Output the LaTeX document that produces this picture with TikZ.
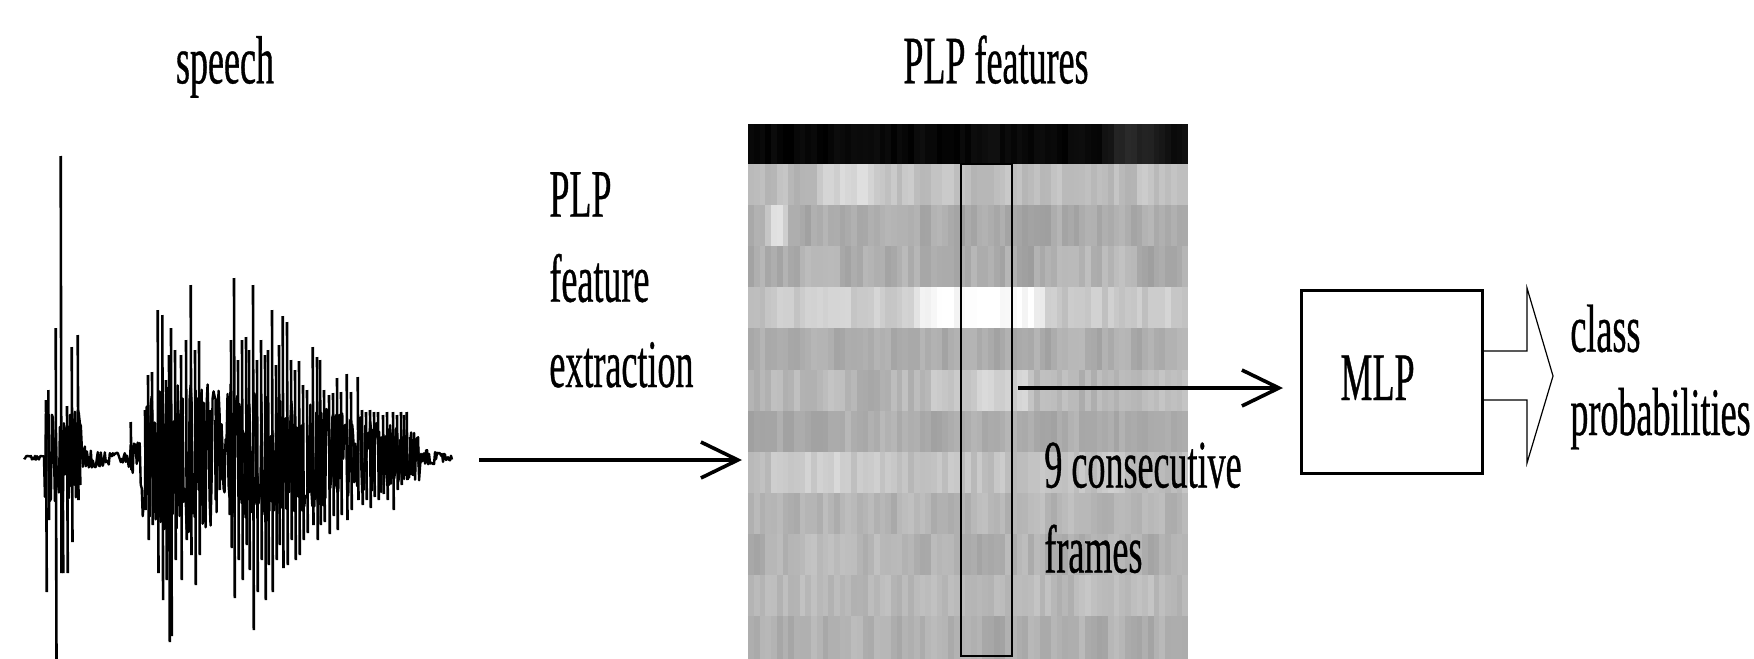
\documentclass[tikz,border=0pt]{standalone}
\usepackage{fontspec}
\setmainfont{Liberation Serif}[FakeStretch=0.53,FakeBold=0.5]
\usetikzlibrary{arrows.meta}
\begin{document}
\begin{tikzpicture}[x=0.5pt,y=-0.5pt,
  lbl/.style={inner sep=0pt, font=\fontsize{34}{42.5}\selectfont},
  conn/.style={line width=1.8pt, -{Straight Barb[length=18.5pt,width=18pt]}},
  spike/.style={line width=1.3pt},
  wave/.style={line width=1.2pt, line join=round},
  mlpbox/.style={draw, line width=1.5pt, inner sep=0pt, minimum width=90.15pt, minimum height=91.65pt},
  declare function={env(\t)=(\t<44)*2
     + and(\t>44,\t<81)*48
     + and(\t>81,\t<128)*(12-8*(\t-81)/47)
     + and(\t>128,\t<140)*16
     + and(\t>140,\t<222)*75
     + and(\t>222,\t<226)*35
     + and(\t>226,\t<420)*(75-50*(\t-226)/194)
     + (\t>420)*(9-6*(\t-420)/32);}]
\useasboundingbox (0,0) rectangle (1754,658);

% ---------- titles ----------
\node[lbl, anchor=base] (speech) at (225,83.3) {speech};
\node[lbl, anchor=base west] (feattitle) at (903,83.3) {PLP features};

% ---------- speech waveform ----------
\pgfmathsetseed{4242}
\draw[wave, samples=430, domain=24:452] plot (\x, {457.7 + env(\x)*(2*(rnd>0.5)-1)*sqrt(rnd)});
\foreach \sx/\st/\sb in {
  46/400/592, 48.3/390/520, 55.7/328/665, 60.7/156/573, 62.5/430/573,
  67/406/573, 71.7/347/542, 77.7/335/500, 79.5/420/485, 130.7/422/470,
  145/410/510, 148/375/540, 152/372/525, 157.7/310/573, 162.3/315/600,
  166/380/580, 169/355/642, 171/328/636, 175/350/560, 181/355/580,
  186/340/540, 190.7/285/555, 195/350/585, 199/341/555, 204/410/505,
  210/410/495, 215/420/500, 219/415/490,
  229/402/515, 231/340/548, 234/278/598, 238/360/560, 242/340/580,
  246/337/545, 249/350/570, 253/285/630, 257/360/592, 261/340/560,
  265/355/600, 268/350/565, 272/310/592, 276/365/560, 279/345/545,
  282.7/316/568, 287/322/565, 291/360/540, 295/370/560, 299/361/555,
  303/385/540, 307/390/533, 312.7/347/525, 317/357/540, 320/360/525,
  324/390/522, 329/395/534, 333/393/516, 337/378/530, 341/392/515,
  346.7/374/520, 351/392/510, 357.7/377/500, 362/410/505, 366/412/500,
  370/410/508, 374/412/497, 378/412/500, 383/415/494, 387/412/500,
  393/412/510, 397/415/490, 401/412/485, 404/415/476, 406.7/412/480,
  410/437/475, 414/442/472, 418/447/467}
  {\draw[spike] (\sx,\st) -- (\sx+0.8,\sb);}

% ---------- PLP feature matrix ----------
\pgfmathsetseed{1234}
\foreach \yt/\yb/\bs/\am/\bc/\bw/\bh in {
  124.2/164/0.03/0.04/67/6/0.12,
  164/205.1/0.75/0.07/17/6/0.09,
  205.1/246.2/0.67/0.06/4/3/0.24,
  246.2/287.3/0.68/0.07/60/10/0.03,
  287.3/328.4/0.79/0.07/40/12/0.21,
  328.4/369.5/0.67/0.06/40/5/0.0,
  369.5/410.6/0.72/0.07/40/10/0.10,
  410.6/451.7/0.67/0.06/20/5/0.03,
  451.7/492.8/0.76/0.07/10/8/0.05,
  492.8/533.9/0.71/0.06/40/5/0.0,
  533.9/575/0.70/0.07/20/10/0.03,
  575/616.1/0.73/0.06/40/5/0.0,
  616.1/660/0.69/0.07/50/5/0.0}
{
  \xdef\prev{\bs}
  \foreach \c in {0,...,76}{
    \pgfmathsetmacro\g{max(0,min(1,0.3*\prev+0.7*(\bs+\bh*min(1,max(0,(\bw-abs(\c-\bc))/3))+\am*rand)))}
    \xdef\prev{\g}
    \definecolor{cellc}{gray}{\g}
    \fill[cellc] ({748.3+\c*5.71},\yt) rectangle ({748.3+(\c+1)*5.71+0.4},\yb+0.3);
  }
}
% window of 9 consecutive frames
\draw[line width=1pt] (961,164) rectangle (1012,655.5);

% ---------- labels ----------
\node[lbl, anchor=base west] (ex1) at (549,216.7) {PLP};
\node[lbl, anchor=base west] (ex2) at (549,301.7) {feature};
\node[lbl, anchor=base west] (ex3) at (549,387) {extraction};
\node[lbl, anchor=base west] (cf1) at (1044,487.5) {9 consecutive};
\node[lbl, anchor=base west] (cf2) at (1044,572.5) {frames};

% ---------- connectors ----------
\coordinate (a1s) at (479,460);
\coordinate (a1e) at (742,460);
\draw[conn] (a1s) -- (a1e);
\coordinate (a2s) at (1018,388);
\coordinate (a2e) at (1283,388);
\draw[conn] (a2s) -- (a2e);

% ---------- MLP ----------
\node[mlpbox] (mlp) at (1391.85,381.65) {};
\node[lbl, anchor=base] (mlpt) at (1377.5,400) {MLP};
\draw[line width=0.6pt, line join=miter]
  (mlp.east |- 0,351) -- (1527,351) -- (1527,288) -- (1553,376)
  -- (1527,463) -- (1527,400) -- (mlp.east |- 0,400);
\node[lbl, anchor=base west] (cp1) at (1570,351.7) {class};
\node[lbl, anchor=base west] (cp2) at (1570,435) {probabilities};
\end{tikzpicture}
\end{document}
